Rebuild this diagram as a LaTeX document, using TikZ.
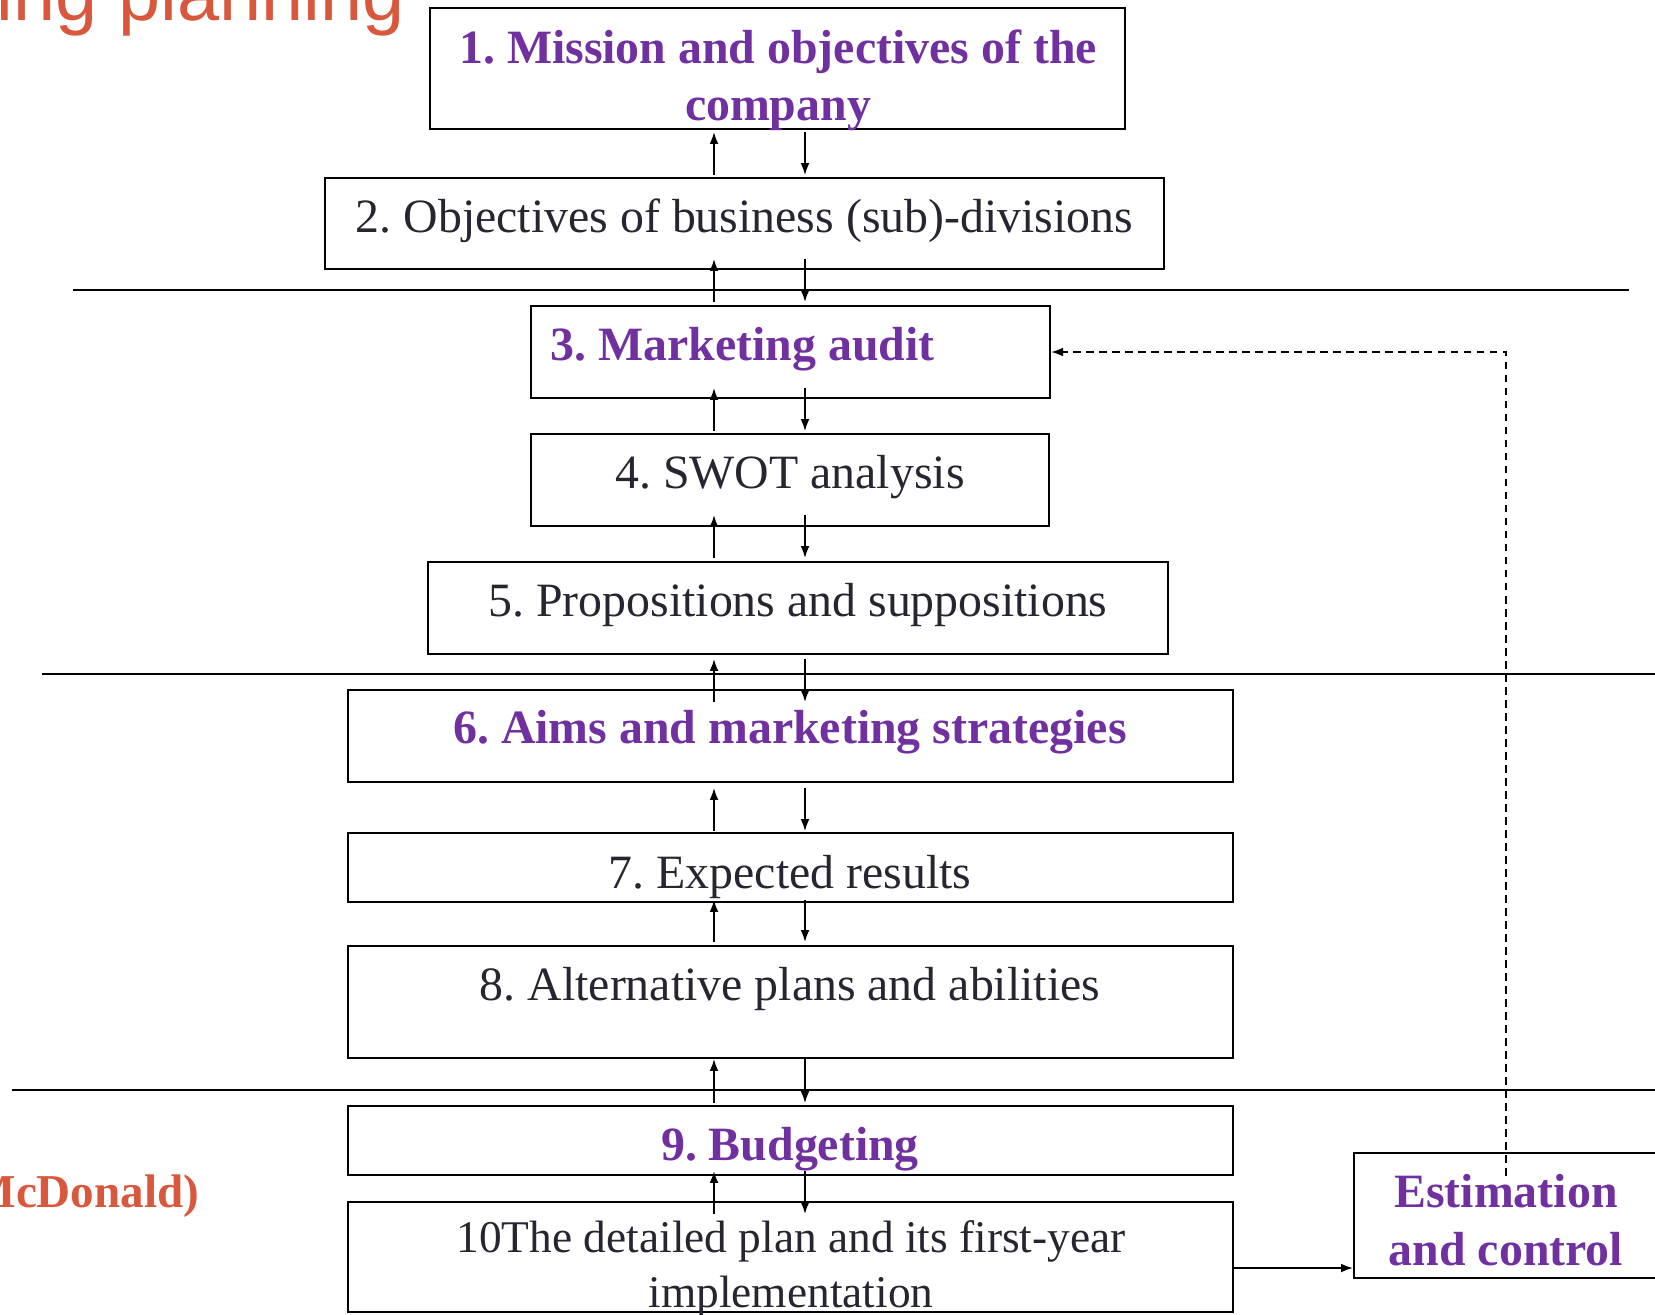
\documentclass[tikz,border=0pt]{standalone}
\usepackage{fontspec}
\setmainfont{Liberation Serif}
\newfontfamily\titulofont{Liberation Sans}
\definecolor{TextoMorado}{RGB}{112,48,160}
\definecolor{TextoRojo}{RGB}{217,88,61}
\definecolor{TextoGris}{RGB}{38,38,48}
\usetikzlibrary{calc, arrows.meta}
\tikzset{
    caja/.style={draw=black, line width=0.55pt, inner sep=0pt},
    texto/.style={inner sep=0pt, anchor=base, align=center, text=TextoGris,
        font=\fontsize{13.6}{16.2}\selectfont},
    destacado/.style={texto, text=TextoMorado,
        font=\fontsize{13.6}{16.2}\selectfont\bfseries},
    flecha/.style={line width=0.45pt, -{Latex[length=3.4pt, width=2.5pt]}},
    separador/.style={line width=0.55pt},
    retroaccion/.style={flecha, dash pattern=on 2.2pt off 1.5pt}
}
\frenchspacing

\begin{document}
\begin{tikzpicture}[x=0.01cm, y=-0.01cm]

    \useasboundingbox (0,0) rectangle (1655,1314);

    \coordinate (sube) at (714,0);
    \coordinate (baja) at (805,0);

    % Restos del titulo y del autor
    \node[anchor=base east, inner sep=0pt, text=TextoRojo,
        font=\titulofont\fontsize{21.5}{24}\selectfont] (titulo) at (405,20) {ing planning};
    \node[anchor=base east, inner sep=0pt, text=TextoRojo,
        font=\fontsize{13.4}{16}\selectfont\bfseries] (autor) at (200,1207) {McDonald)};

    % Cajas de las etapas
    \node[caja, minimum width=6.95cm, minimum height=1.21cm] (mision) at (777.5,68.5) {};
    \node[caja, minimum width=8.39cm, minimum height=0.91cm] (objetivos) at (744.5,223.5) {};
    \node[caja, minimum width=5.19cm, minimum height=0.92cm] (auditoria) at (790.5,352) {};
    \node[caja, minimum width=5.18cm, minimum height=0.92cm] (swot) at (790,480) {};
    \node[caja, minimum width=7.40cm, minimum height=0.92cm] (supuestos) at (798,608) {};
    \node[caja, minimum width=8.85cm, minimum height=0.92cm] (estrategias) at (790.5,736) {};
    \node[caja, minimum width=8.85cm, minimum height=0.69cm] (resultados) at (790.5,867.5) {};
    \node[caja, minimum width=8.85cm, minimum height=1.12cm] (alternativas) at (790.5,1002) {};
    \node[caja, minimum width=8.85cm, minimum height=0.69cm] (presupuesto) at (790.5,1140.5) {};
    \node[caja, minimum width=8.85cm, minimum height=1.10cm] (plan) at (790.5,1257) {};
    \node[caja, minimum width=3.04cm, minimum height=1.25cm] (control) at (1506,1215.5) {};

    % Textos de las cajas (la base es la de la ultima linea)
    \node[destacado] (mision-t) at (778,120) {1. Mission and objectives of the\\company};
    \node[texto] (objetivos-t) at (744.5,232) {2. Objectives of business (sub)-divisions};
    \node[destacado, anchor=base west] (auditoria-t) at (550,360) {3. Marketing audit};
    \node[texto] (swot-t) at (790,488) {4. SWOT analysis};
    \node[texto] (supuestos-t) at (798,616) {5. Propositions and suppositions};
    \node[destacado] (estrategias-t) at (790,743) {6. Aims and marketing strategies};
    \node[texto] (resultados-t) at (790,888) {7. Expected results};
    \node[texto] (alternativas-t) at (790,1000) {8. Alternative plans and abilities};
    \node[destacado] (presupuesto-t) at (790,1160) {9. Budgeting};
    \node[texto, font=\fontsize{12.9}{15.4}\selectfont] (plan-t) at (791,1307)
        {10The detailed plan and its first-year\\implementation};
    \node[destacado, font=\fontsize{13.6}{16.5}\selectfont\bfseries] (control-t) at (1506,1265)
        {Estimation\\and control};

    % Lineas de separacion
    \draw[separador] (73,290) -- (1629,290);
    \draw[separador] (42,674) -- (1655,674);
    \draw[separador] (12,1090) -- (1655,1090);

    % Flechas de ida y vuelta entre etapas
    \foreach \arriba/\abajo/\da/\db in {mision/objetivos/2/-2, objetivos/auditoria/-11/-3,
        auditoria/swot/-11/-2, swot/supuestos/-12/-3, supuestos/estrategias/4/13,
        estrategias/resultados/5/-1, resultados/alternativas/-3/-3,
        alternativas/presupuesto/0/-2, presupuesto/plan/-5/13}{
        \draw[flecha] ($(\abajo.north -| sube)+(0,\db)$) -- ($(\arriba.south -| sube)+(0,\da)$);
        \draw[flecha] ($(\arriba.south -| baja)+(0,\da)$) -- ($(\abajo.north -| baja)+(0,\db)$);
    }

    % Control y retroaccion
    \coordinate (salida) at ($(plan.east)+(0,11)$);
    \draw[flecha] (salida) -- (salida -| control.west);
    \draw[retroaccion] ($(control.north)+(0,24)$) |- (auditoria.east);

\end{tikzpicture}
\end{document}
